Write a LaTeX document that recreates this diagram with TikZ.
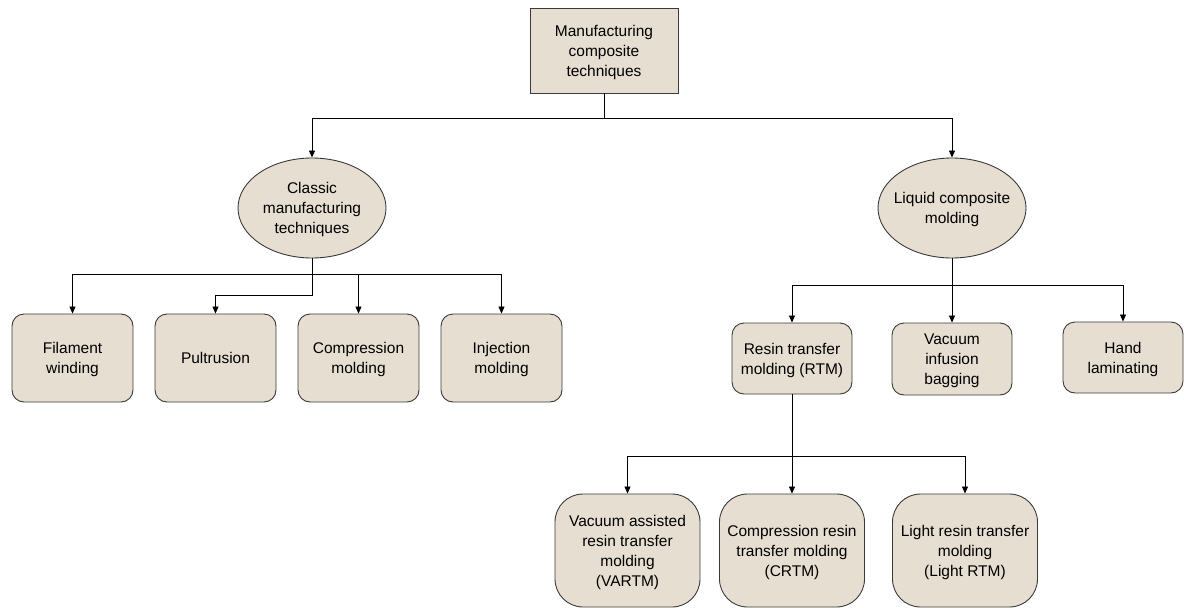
\documentclass[tikz,border=0pt]{standalone}
\usepackage{fontspec}
\setmainfont{Liberation Sans}
\usetikzlibrary{shapes.geometric,arrows.meta}
\definecolor{boxfill}{HTML}{E6DED1}
\definecolor{boxline}{HTML}{3A3A3A}
\tikzset{
  base/.style={draw=boxline,fill=boxfill,line width=0.9pt,align=center,inner sep=0pt,
    text depth=0pt,font=\fontsize{15.5}{20}\selectfont},
  topbox/.style={base,minimum width=148pt,minimum height=85pt},
  oval/.style={base,ellipse,inner xsep=-14pt,minimum width=148pt,minimum height=100pt},
  method/.style={base,rounded corners=12pt,minimum width=121pt,minimum height=88pt},
  submethod/.style={base,rounded corners=12pt,minimum width=120pt,minimum height=71pt},
  variant/.style={base,rounded corners=28pt,minimum width=145pt,minimum height=113pt},
  arr/.style={-{Triangle[length=7pt,width=6pt]},line width=0.8pt}
}
\begin{document}
\begin{tikzpicture}[x=1pt,y=-1pt]
            \useasboundingbox (0,0) rectangle (1184,608);
            % root
            \node[topbox] (top) at (604,50.5){Manufacturing\\composite\\techniques};
            \node[oval] (classic) at (312,208){Classic\\manufacturing\\techniques};
            \node[oval] (liquid) at (952,208){Liquid composite\\molding};
            % classic techniques
            \node[method] (filament) at (72.5,358){Filament\\winding};
            \node[method] (pultrusion) at (215.5,358){Pultrusion};
            \node[method] (compression) at (358.5,358){Compression\\molding};
            \node[method] (injection) at (501.5,358){Injection\\molding};
            % liquid composite molding
            \node[submethod] (rtm) at (792,358.5){Resin transfer\\molding (RTM)};
            \node[submethod,minimum height=72pt] (vacuum) at (952,359){Vacuum\\infusion\\bagging};
            \node[submethod] (hand) at (1123,357.5){Hand\\laminating};
            % RTM variants
            \node[variant] (vartm) at (627.5,550.5){Vacuum assisted\\resin transfer\\molding\\(VARTM)};
            \node[variant] (crtm) at (792,550.5){Compression resin\\transfer molding\\(CRTM)};
            \node[variant] (light) at (965,550.5){Light resin transfer\\molding\\(Light RTM)};
            % connectors
            \draw[arr] (top.south) -- ++(0,25) -| (classic.north);
            \draw[arr] (top.south) -- ++(0,25) -| (liquid.north);
            \draw[arr] (classic.south) -- ++(0,16) -| (filament.north);
            \draw[arr] (classic.south) -- ++(0,37) -| (pultrusion.north);
            \draw[arr] (classic.south) -- ++(0,16) -| (compression.north);
            \draw[arr] (classic.south) -- ++(0,16) -| (injection.north);
            \draw[arr] (liquid.south) -- ++(0,27) -| (rtm.north);
            \draw[arr] (liquid.south) -- (vacuum.north);
            \draw[arr] (liquid.south) -- ++(0,27) -| (hand.north);
            \draw[arr] (rtm.south) -- ++(0,62) -| (vartm.north);
            \draw[arr] (rtm.south) -- (crtm.north);
            \draw[arr] (rtm.south) -- ++(0,62) -| (light.north);
\end{tikzpicture}
\end{document}
